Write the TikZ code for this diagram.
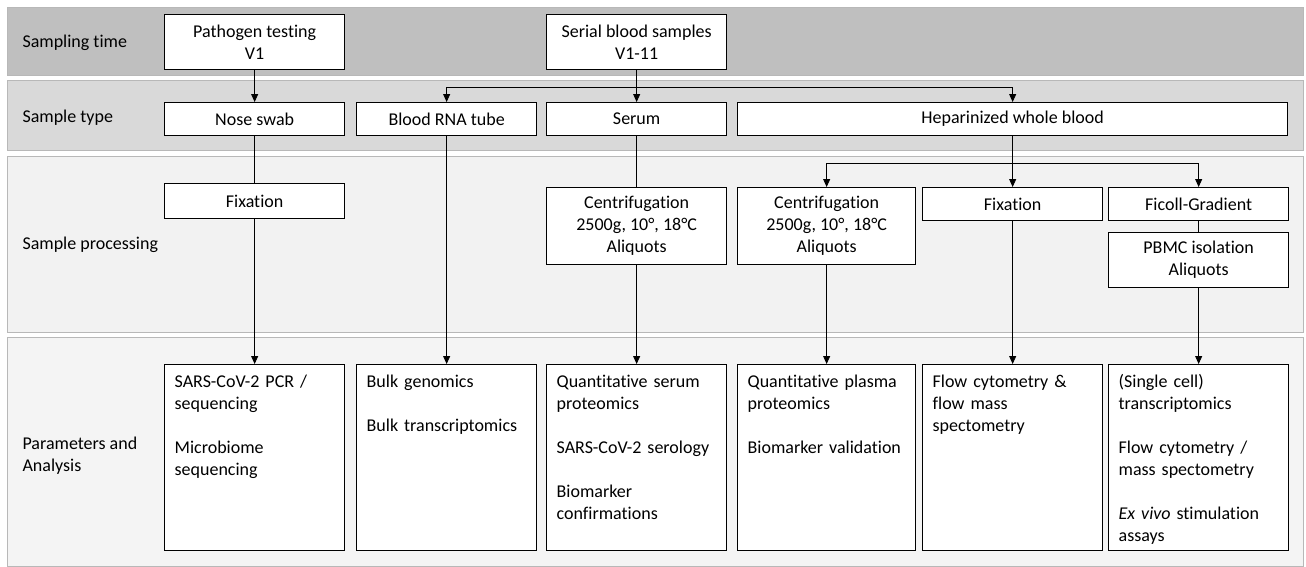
\documentclass[tikz,border=0pt]{standalone}
\usepackage{fontspec}
\setmainfont{Carlito}[Ligatures=NoCommon]
\usepackage{tikz}
\usetikzlibrary{arrows.meta, positioning}
\definecolor{bandone}{HTML}{BFBFBF}
\definecolor{bandtwo}{HTML}{D9D9D9}
\definecolor{bandthree}{HTML}{F2F2F2}
\definecolor{bandfour}{HTML}{F4F4F4}
\tikzset{
>={Triangle[length=8pt,width=7pt]},
  band/.style={draw=black!28, line width=0.7pt},
  rowlabel/.style={anchor=west, align=left},
  stepbox/.style={
    rectangle,
    draw=black, line width=1.3pt,
    fill=white,
    anchor=north west,
    inner sep=0pt,
    minimum width=180pt,
    align=center},
  resultbox/.style={
    rectangle,
    draw=black, line width=1.3pt,
    fill=white,
    anchor=north west,
    text width=160pt,
    inner xsep=10pt, inner ysep=0pt,
    text height=23pt, text depth=163pt,
    align=left},
  line/.style={draw, line width=0.8pt},
  arrowline/.style={line, ->},
}

\begin{document}
\begin{tikzpicture}[x=1pt, y=-1pt, font=\fontsize{18}{22}\selectfont]
     \useasboundingbox (0,0) rectangle (1306,566);
     % bands
     \filldraw[band, fill=bandone]   (7,7)   rectangle (1303,75);
     \filldraw[band, fill=bandtwo]   (7,80)  rectangle (1303,150);
     \filldraw[band, fill=bandthree] (7,156) rectangle (1303,332);
     \filldraw[band, fill=bandfour]  (7,337) rectangle (1303,566);
     \node[rowlabel] (LabTime)    at (19,43)  {Sampling time};
     \node[rowlabel] (LabType)    at (19,118) {Sample type};
     \node[rowlabel] (LabProcess) at (19,245) {Sample processing};
     \node[rowlabel] (LabAnalysis) at (19,456) {Parameters and\\Analysis};
     % sampling time
     \node[stepbox, minimum height=55pt] (Pathogen) at (164,14) {Pathogen testing\\V1};
     \node[stepbox, minimum height=55pt] (Serial)   at (546,14) {Serial blood samples\\V1-11};
     % sample type
     \node[stepbox, minimum height=33pt] (NoseSwab) at (164,102) {Nose swab};
     \node[stepbox, minimum height=33pt] (BloodRNA) at (356,102) {Blood RNA tube};
     \node[stepbox, minimum height=33pt] (Serum)    at (546,102) {Serum};
     \node[stepbox, minimum height=33pt, minimum width=550pt] (Heparin) at (737,102) {Heparinized whole blood};
     % sample processing
     \node[stepbox, minimum height=35pt] (FixOne)   at (164,183) {Fixation};
     \node[stepbox, minimum height=77pt] (CentriOne) at (546,187) {Centrifugation\\2500g, 10°, 18°C\\Aliquots};
     \node[stepbox, minimum height=77pt, minimum width=178pt] (CentriTwo) at (737,187) {Centrifugation\\2500g, 10°, 18°C\\Aliquots};
     \node[stepbox, minimum height=33pt] (FixTwo)   at (922,187) {Fixation};
     \node[stepbox, minimum height=33pt] (Ficoll)   at (1108,187) {Ficoll-Gradient};
     \node[stepbox, minimum height=55pt] (PBMC)     at (1108,232) {PBMC isolation\\Aliquots};
     % parameters and analysis
     \node[resultbox] (ResSwab)   at (164,364) {SARS-CoV-2 PCR /\\sequencing\\[22pt]Microbiome\\sequencing};
     \node[resultbox] (ResRNA)    at (356,364) {Bulk genomics\\[22pt]Bulk transcriptomics};
     \node[resultbox] (ResSerum)  at (546,364) {Quantitative serum\\proteomics\\[22pt]SARS-CoV-2 serology\\[22pt]Biomarker\\confirmations};
     \node[resultbox, text width=158pt] (ResPlasma) at (737,364) {Quantitative plasma\\proteomics\\[22pt]Biomarker validation};
     \node[resultbox] (ResFlow)   at (922,364) {Flow cytometry \&\\flow mass\\spectometry};
     \node[resultbox] (ResPBMC)   at (1108,364) {(Single cell)\\transcriptomics\\[22pt]Flow cytometry /\\mass spectometry\\[22pt]\textit{Ex vivo} stimulation\\assays};
     % connectors
     \draw[arrowline] (Pathogen) -- (NoseSwab);
     \draw[line] (Serial.south) -- ++(0,17) coordinate (SerialSplit);
     \draw[arrowline] (SerialSplit) -| (BloodRNA.north);
     \draw[arrowline] (SerialSplit) -- (Serum);
     \draw[arrowline] (SerialSplit) -| (Heparin.north);
     \draw[line] (NoseSwab) -- (FixOne);
     \draw[arrowline] (FixOne) -- (ResSwab);
     \draw[arrowline] (BloodRNA) -- (ResRNA);
     \draw[line] (Serum) -- (CentriOne);
     \draw[arrowline] (CentriOne) -- (ResSerum);
     \draw[line] (Heparin.south) -- ++(0,27) coordinate (HeparinSplit);
     \draw[arrowline] (HeparinSplit) -| (CentriTwo.north);
     \draw[arrowline] (HeparinSplit) -- (FixTwo);
     \draw[arrowline] (HeparinSplit) -| (Ficoll.north);
     \draw[line] (Ficoll) -- (PBMC);
     \draw[arrowline] (CentriTwo) -- (ResPlasma);
     \draw[arrowline] (FixTwo) -- (ResFlow);
     \draw[arrowline] (PBMC) -- (ResPBMC);
\end{tikzpicture}
\end{document}
